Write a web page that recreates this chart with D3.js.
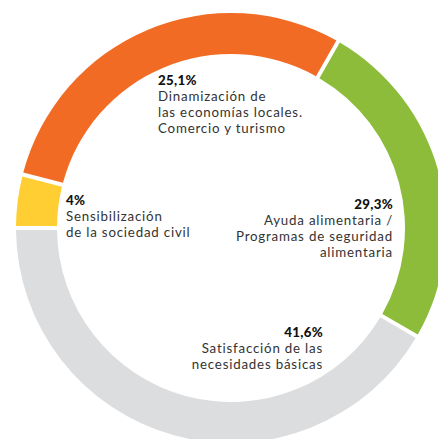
<!DOCTYPE html>
<html>
<head>
<meta charset="utf-8">
<script src="https://cdn.jsdelivr.net/npm/d3@7"></script>
<style>
  html, body { margin: 0; padding: 0; background: #fff; }
  svg { display: block; }
  .pct { font-family: "Lato", sans-serif; font-weight: 900; fill: #111; letter-spacing: 0.3px; }
  .lbl { font-family: "Lato", sans-serif; font-weight: 400; fill: #333; letter-spacing: 0.8px; }
</style>
</head>
<body>
<div id="chart-Div"></div>
<script>
// slice shares as drawn in the picture (start at 9 o'clock, clockwise)
let categories = ['Sensibilización', 'Dinamización', 'Ayuda alimentaria', 'Satisfacción'];
let shares = [4, 29.3, 25.1, 41.6];
// printed labels
let pctLabels = ['4%', '25,1%', '29,3%', '41,6%'];
let textLines = [
    ['Sensibilización', 'de la sociedad civil'],
    ['Dinamización de', 'las economías locales.', 'Comercio y turismo'],
    ['Ayuda alimentaria /', 'Programas de seguridad', 'alimentaria'],
    ['Satisfacción de las', 'necesidades básicas']
];
let colors = ['#FECE33', '#F26B24', '#8DBC3B', '#DCDDDF'];

let width = 438, height = 439;
let cx = 231, cy = 228;
let outerR = 215, innerR = 174;

// where each label block sits (x, first baseline, anchor)
let labelPos = [
    { x: 66, y: 205, anchor: 'start' },
    { x: 158, y: 85, anchor: 'start' },
    { x: 393, y: 209, anchor: 'end' },
    { x: 323, y: 337, anchor: 'end' }
];
let lineH = 16;
let fontSize = 13.3;

let svg = d3.select('#chart-Div')
    .append('svg')
    .attr('width', width)
    .attr('height', height);

let pie = d3.pie()
    .value(d => d)
    .sort(null)
    .startAngle(1.5 * Math.PI)
    .endAngle(3.5 * Math.PI);

let arcGen = d3.arc()
    .innerRadius(innerR)
    .outerRadius(outerR)
    .padRadius(195)
    .padAngle(4 / 195);

let g = svg.append('g')
    .attr('transform', `translate(${cx},${cy})`);

g.selectAll('path')
    .data(pie(shares))
    .join('path')
    .attr('d', arcGen)
    .attr('fill', (d, i) => colors[i]);

// labels
let labels = svg.selectAll('g.label')
    .data(categories)
    .join('g')
    .attr('class', 'label');

labels.append('text')
    .attr('class', 'pct')
    .attr('x', (d, i) => labelPos[i].x)
    .attr('y', (d, i) => labelPos[i].y)
    .attr('text-anchor', (d, i) => labelPos[i].anchor)
    .attr('font-size', fontSize)
    .text((d, i) => pctLabels[i]);

labels.each(function (d, i) {
    let sel = d3.select(this);
    textLines[i].forEach((line, j) => {
        sel.append('text')
            .attr('class', 'lbl')
            .attr('x', labelPos[i].x)
            .attr('y', labelPos[i].y + lineH * (j + 1))
            .attr('text-anchor', labelPos[i].anchor)
            .attr('font-size', fontSize)
            .text(line);
    });
});
</script>
</body>
</html>
